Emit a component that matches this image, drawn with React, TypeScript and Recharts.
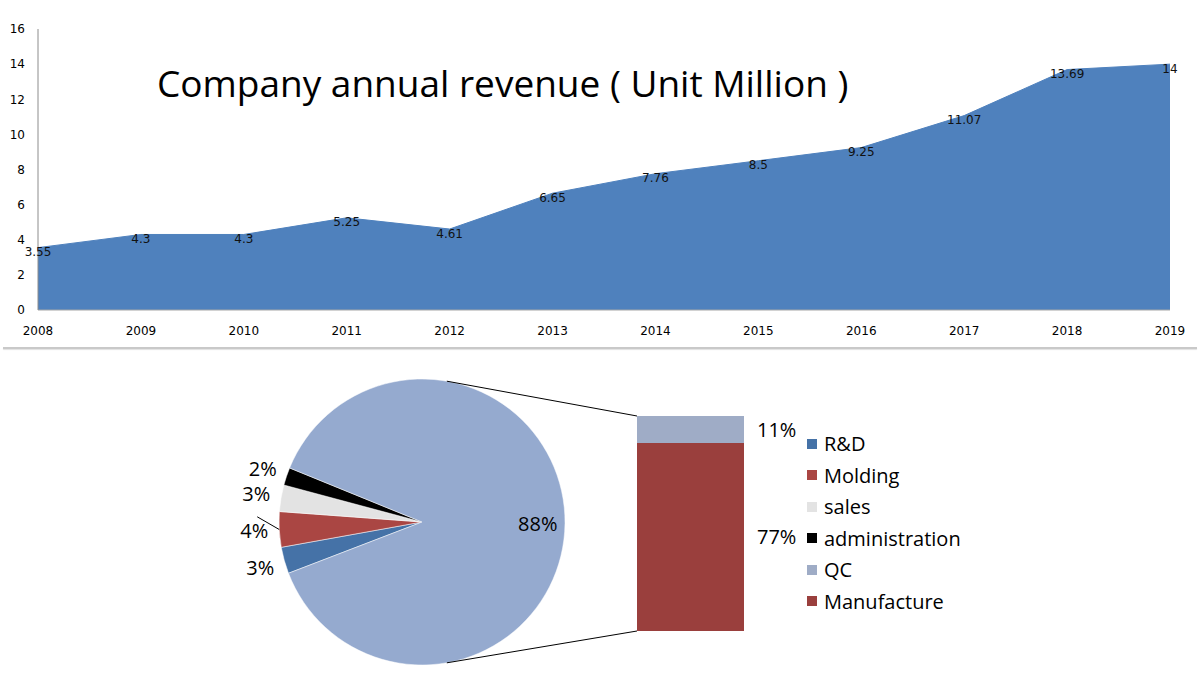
import { AreaChart, Area, XAxis, YAxis, LabelList, PieChart, Pie, Cell, BarChart, Bar } from 'recharts';

// revenue, in millions
const years = ['2008', '2009', '2010', '2011', '2012', '2013', '2014', '2015', '2016', '2017', '2018', '2019'];
const revenue = [3.55, 4.3, 4.3, 5.25, 4.61, 6.65, 7.76, 8.5, 9.25, 11.07, 13.69, 14];
const yTicks = [0, 2, 4, 6, 8, 10, 12, 14, 16];

// cost split: small departments in the pie, the rest broken out in the bar
const deptNames = ['R&D', 'Molding', 'sales', 'administration'];
const deptShares = [3, 4, 3, 2];
const deptColors = ['#4572A7', '#AA4643', '#E3E3E3', '#000000'];
const otherShare = 88;
const otherColor = '#95AACF';
const splitNames = ['QC', 'Manufacture'];
const splitShares = [11, 77];
const splitColors = ['#9FACC6', '#9A3F3D'];

const legendNames = [...deptNames, ...splitNames];
const legendColors = [...deptColors, ...splitColors];

const revenueData = years.map((year, i) => ({ year, revenue: revenue[i] }));
const pieData = [
  ...deptNames.map((name, i) => ({ name, value: deptShares[i] })),
  { name: 'Other', value: otherShare },
];
const barData = [{ name: 'Other', QC: splitShares[0], Manufacture: splitShares[1] }];

const RAD = Math.PI / 180;
const PIE_TOP = 350;
const PIE_CX = 422;
const PIE_CY = 172;
const PIE_R = 143;
const BAR_LEFT = 637;
const BAR_TOP = 416;
const BAR_W = 107;
const BAR_H = 215;

const sans = '"Open Sans", "Noto Sans", sans-serif';
const small = '"DejaVu Sans", Verdana, sans-serif';

function PointLabel(props: any) {
  const { x, y, value } = props;
  return (
    <text x={x} y={y + 5} textAnchor="middle" dominantBaseline="middle" fontSize={12} fontFamily={small} fill="#111">
      {value}
    </text>
  );
}

function PieLabel(props: any) {
  const { cx, cy, midAngle, outerRadius, index, value } = props;
  const big = index === pieData.length - 1;
  const r = big ? outerRadius * 0.81 : outerRadius + 25;
  const x = cx + r * Math.cos(-midAngle * RAD);
  const y = cy + r * Math.sin(-midAngle * RAD);
  const ex = cx + outerRadius * Math.cos(-midAngle * RAD);
  const ey = cy + outerRadius * Math.sin(-midAngle * RAD);
  return (
    <g>
      {index === 1 && <line x1={ex} y1={ey} x2={x + 3} y2={y - 14} stroke="#000" strokeWidth={1} />}
      <text x={x} y={y} textAnchor="middle" dominantBaseline="central" fontSize={20} fontFamily={sans} fill="#000">
        {value}%
      </text>
    </g>
  );
}

export default function App() {
  const a = 80 * RAD;
  const topX = PIE_CX + PIE_R * Math.cos(a);
  const topY = PIE_TOP + PIE_CY - PIE_R * Math.sin(a);
  const botY = PIE_TOP + PIE_CY + PIE_R * Math.sin(a);

  return (
    <div style={{ position: 'absolute', left: 0, top: 0, width: 1200, height: 689, background: '#fff', overflow: 'hidden' }}>
      <div style={{ position: 'absolute', left: 0, top: 0 }}>
        <AreaChart width={1200} height={340} data={revenueData} margin={{ top: 29, right: 30, left: 0, bottom: 0 }}>
          <XAxis
            dataKey="year"
            height={30}
            tickLine={false}
            tickMargin={10}
            axisLine={{ stroke: '#a6a6a6' }}
            tick={{ fontSize: 12, fontFamily: small, fill: '#000' }}
            interval={0}
          />
          <YAxis
            width={38}
            domain={[0, 16]}
            ticks={yTicks}
            tickLine={false}
            tickMargin={7}
            axisLine={{ stroke: '#8c8c8c' }}
            tick={{ fontSize: 12, fontFamily: small, fill: '#000' }}
          />
          <Area type="linear" dataKey="revenue" stroke="#4F81BD" fill="#4F81BD" fillOpacity={1} isAnimationActive={false}>
            <LabelList dataKey="revenue" content={PointLabel} />
          </Area>
        </AreaChart>
      </div>

      <div
        style={{
          position: 'absolute',
          left: 157,
          top: 57,
          fontFamily: sans,
          fontSize: 37,
          color: '#000',
          whiteSpace: 'nowrap',
        }}
      >
        Company annual revenue ( Unit Million )
      </div>

      <div style={{ position: 'absolute', left: 3, top: 347, width: 1194, height: 2, background: '#c9c9c9', boxShadow: '0 1px 1px #e2e2e2' }} />

      <div style={{ position: 'absolute', left: 0, top: PIE_TOP }}>
        <PieChart width={620} height={339} margin={{ top: 0, right: 0, bottom: 0, left: 0 }}>
          <Pie
            data={pieData}
            dataKey="value"
            cx={PIE_CX}
            cy={PIE_CY}
            outerRadius={PIE_R}
            startAngle={201}
            endAngle={-159}
            stroke="#fff"
            strokeWidth={0.5}
            label={PieLabel}
            labelLine={false}
            isAnimationActive={false}
          >
            {pieData.map((d, i) => (
              <Cell key={d.name} fill={i < deptColors.length ? deptColors[i] : otherColor} />
            ))}
          </Pie>
        </PieChart>
      </div>

      <div style={{ position: 'absolute', left: BAR_LEFT, top: BAR_TOP }}>
        <BarChart width={BAR_W + 80} height={BAR_H} data={barData} margin={{ top: 0, right: 80, left: 0, bottom: 0 }} barCategoryGap={0}>
          <XAxis dataKey="name" hide />
          <YAxis hide domain={[0, otherShare]} />
          <Bar dataKey="Manufacture" stackId="a" fill={splitColors[1]} isAnimationActive={false}>
            <LabelList dataKey="Manufacture" position="right" offset={13} formatter={(v: any) => `${v}%`} style={{ fontSize: 20, fontFamily: sans, fill: '#000' }} />
          </Bar>
          <Bar dataKey="QC" stackId="a" fill={splitColors[0]} isAnimationActive={false}>
            <LabelList dataKey="QC" position="right" offset={13} formatter={(v: any) => `${v}%`} style={{ fontSize: 20, fontFamily: sans, fill: '#000' }} />
          </Bar>
        </BarChart>
      </div>

      <svg width={1200} height={689} style={{ position: 'absolute', left: 0, top: 0, pointerEvents: 'none' }}>
        <line x1={topX} y1={topY} x2={BAR_LEFT} y2={BAR_TOP} stroke="#000" strokeWidth={1} />
        <line x1={topX} y1={botY} x2={BAR_LEFT} y2={BAR_TOP + BAR_H} stroke="#000" strokeWidth={1} />
      </svg>

      <div style={{ position: 'absolute', left: 807, top: 428, fontFamily: sans, fontSize: 20, color: '#000' }}>
        {legendNames.map((name, i) => (
          <div key={name} style={{ display: 'flex', alignItems: 'center', height: 31.5 }}>
            <span style={{ width: 10, height: 10, background: legendColors[i], marginRight: 7 }} />
            <span>{name}</span>
          </div>
        ))}
      </div>
    </div>
  );
}
